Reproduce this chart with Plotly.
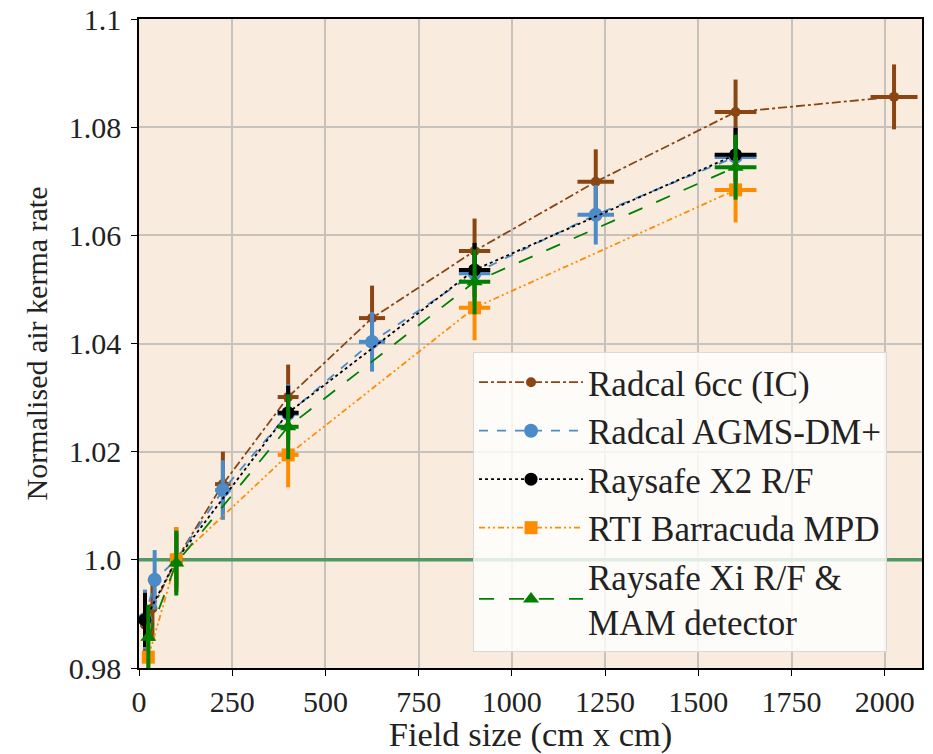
import plotly.graph_objects as go

# ---- data ----
names = ["Radcal 6cc (IC)", "Radcal AGMS-DM+", "Raysafe X2 R/F",
         "RTI Barracuda MPD", "Raysafe Xi R/F &amp;<br>MAM detector"]

x_6cc = [16, 36, 100, 225, 400, 625, 900, 1225, 1600, 2025]
y_6cc = [0.988, 0.991, 1.000, 1.014, 1.0301, 1.0447, 1.0571, 1.0699, 1.0828, 1.0856]
xe_6cc = [6, 9, 14, 21, 28, 35, 42, 49, 56, 63]
ye_6cc = [0.006] * 10

x_agms = [16, 42, 100, 225, 400, 625, 900, 1225, 1600]
y_agms = [0.989, 0.9963, 1.000, 1.0129, 1.027, 1.0403, 1.053, 1.0638, 1.0745]
xe_agms = [6, 9, 14, 21, 28, 35, 42, 49, 56]
ye_agms = [0.0055] * 9

x_x2 = [16, 100, 400, 900, 1600]
y_x2 = [0.9889, 1.000, 1.0272, 1.0536, 1.0749]
xe_x2 = [6, 14, 28, 42, 56]
ye_x2 = [0.005] * 5

x_rti = [25, 100, 400, 900, 1600]
y_rti = [0.982, 1.000, 1.0194, 1.0466, 1.0684]
xe_rti = [7, 14, 28, 42, 56]
ye_rti = [0.006] * 5

x_xi = [25, 100, 400, 900, 1600]
y_xi = [0.9857, 0.9994, 1.0246, 1.0514, 1.0726]
xe_xi = [7, 14, 28, 42, 56]
ye_xi = [0.006] * 5

x_range = [0, 2100]
y_range = [0.98, 1.1]
x_ticks = [0, 250, 500, 750, 1000, 1250, 1500, 1750, 2000]
y_ticks = [0.98, 1.0, 1.02, 1.04, 1.06, 1.08, 1.1]
y_tick_text = ["0.98", "1.0", "1.02", "1.04", "1.06", "1.08", "1.1"]
ref_level = 1.0

series = [
    (x_6cc, y_6cc, xe_6cc, ye_6cc, "#8B4513", "dashdot", "circle", 10),
    (x_agms, y_agms, xe_agms, ye_agms, "#4A8BC8", "dash", "circle", 14),
    (x_x2, y_x2, xe_x2, ye_x2, "#000000", "dot", "circle", 13),
    (x_rti, y_rti, xe_rti, ye_rti, "#FF8C00", "6px,3px,2px,3px,2px,3px", "square", 13),
    (x_xi, y_xi, xe_xi, ye_xi, "#008000", "longdash", "triangle-up", 14),
]

FONT = "Liberation Serif, DejaVu Serif, serif"

fig = go.Figure()

# reference level line (drawn as first trace: above grid, below data)
fig.add_trace(go.Scatter(
    x=x_range, y=[ref_level, ref_level], mode="lines", showlegend=False,
    hoverinfo="skip", line=dict(color="#4F9A62", width=3.5),
))

for name, (xs, ys, xe, ye, col, dash, sym, size) in zip(names, series):
    fig.add_trace(go.Scatter(
        x=xs, y=ys, name=name, mode="lines+markers", legendgroup=name,
        line=dict(color=col, width=1.8, dash=dash),
        marker=dict(symbol=sym, size=size, color=col, line=dict(width=0)),
        error_y=dict(type="data", array=ye, visible=True, color=col,
                     thickness=4, width=0),
        error_x=dict(type="data", array=xe, visible=True, color=col,
                     thickness=4, width=0),
    ))

fig.update_layout(
    width=933, height=754,
    margin=dict(l=139, r=11, t=19, b=86),
    paper_bgcolor="white",
    plot_bgcolor="#F9ECDF",
    font=dict(family=FONT, size=30, color="#222222"),
    showlegend=True,
    legend=dict(
        x=0.4266, y=0.487, xanchor="left", yanchor="top",
        bgcolor="rgba(255,255,255,0.82)",
        bordercolor="#D8D8D8", borderwidth=1,
        font=dict(family=FONT, size=35, color="#222222"),
        itemwidth=104,
        tracegroupgap=0,
    ),
)

fig.update_xaxes(
    range=x_range, tickvals=x_ticks, automargin=False,
    showgrid=True, gridcolor="#C8C2BC", gridwidth=1.5,
    showline=True, linecolor="black", linewidth=1.5, mirror=True,
    ticks="outside", ticklen=6, tickcolor="black",
    zeroline=False,
    tickfont=dict(family=FONT, size=30),
    title=dict(text="Field size (cm x cm)", font=dict(family=FONT, size=34.5), standoff=9),
)
fig.update_yaxes(
    range=y_range, tickvals=y_ticks, ticktext=y_tick_text, automargin=False,
    showgrid=True, gridcolor="#C8C2BC", gridwidth=1.5,
    showline=True, linecolor="black", linewidth=1.5, mirror=True,
    ticks="outside", ticklen=6, tickcolor="black", ticklabelstandoff=4,
    zeroline=False,
    tickfont=dict(family=FONT, size=30),
    title=dict(text="Normalised air kerma rate", font=dict(family=FONT, size=30), standoff=12),
)

# remove the default 8px page margin so the figure fills the window exactly
fig.write_html("out.html", config={"displayModeBar": False},
               post_script="document.body.style.margin='0';")
